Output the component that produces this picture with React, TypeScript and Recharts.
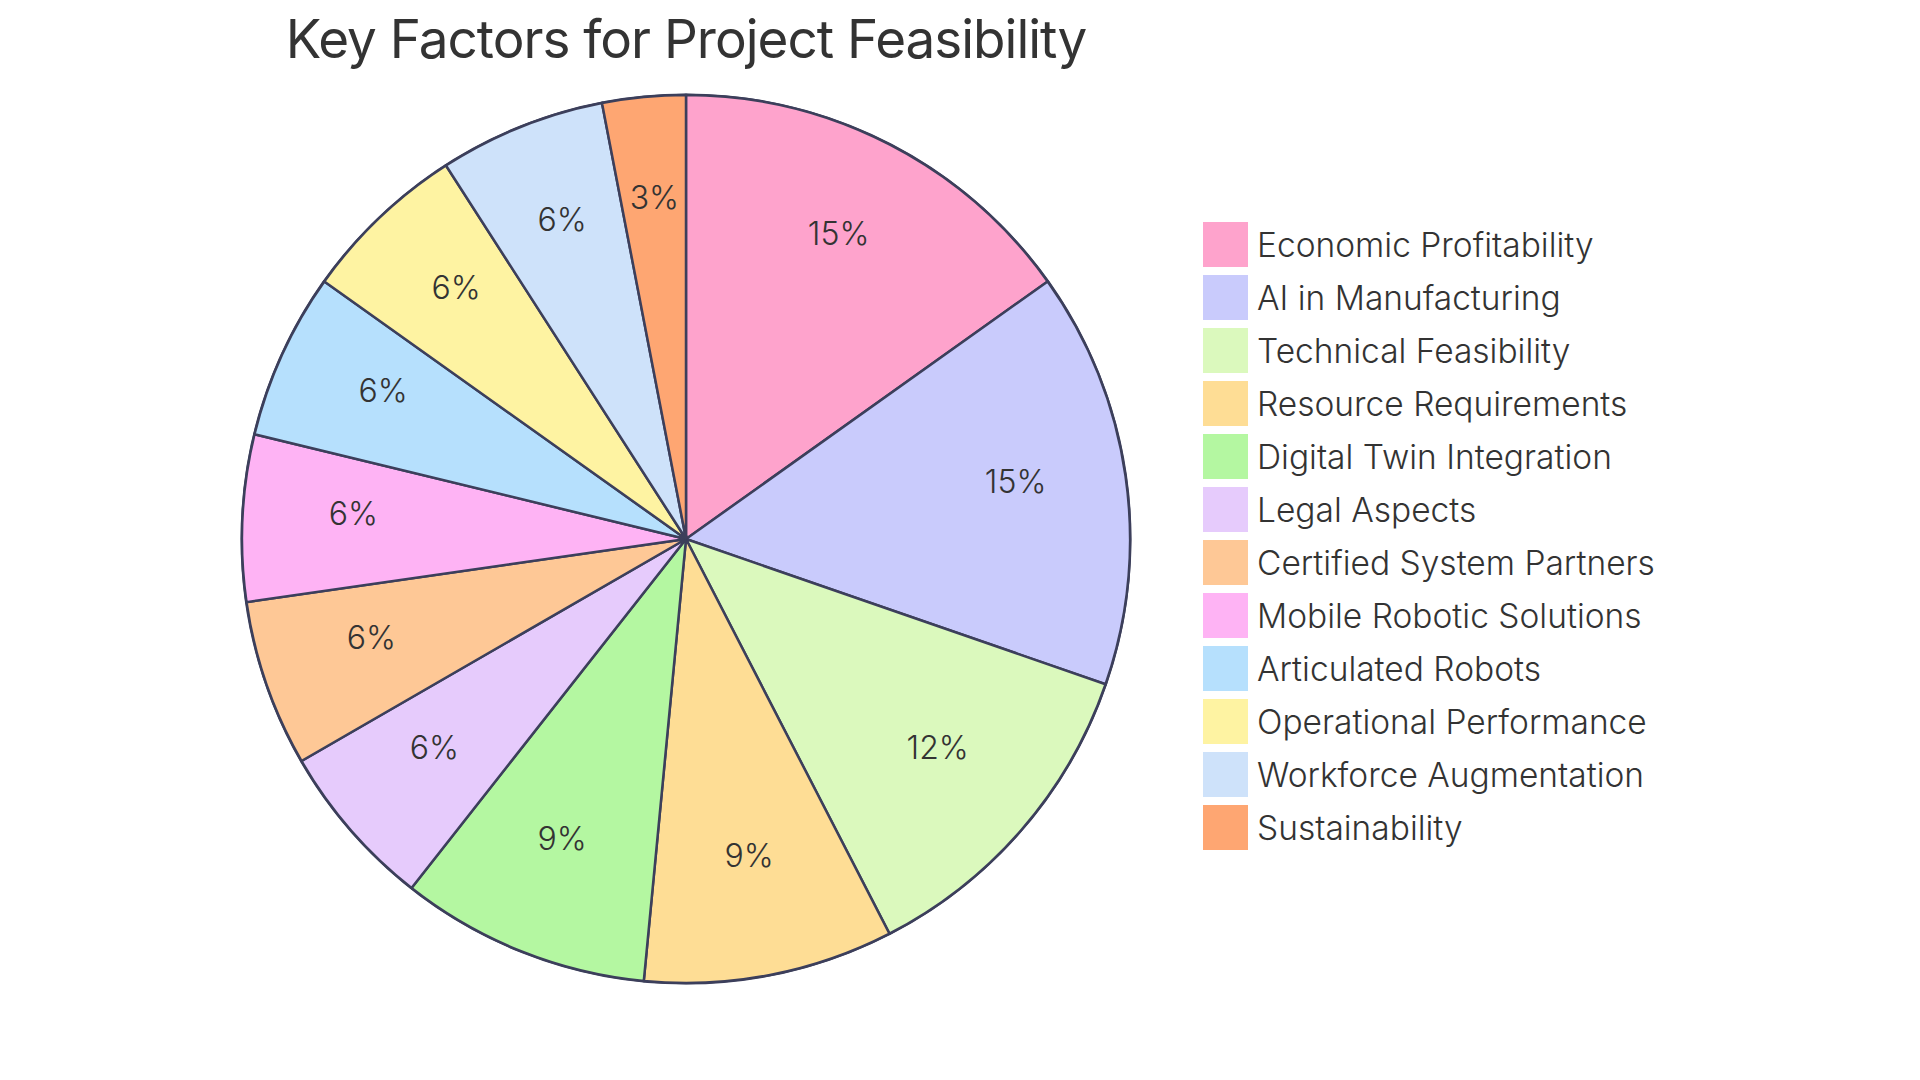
import React from "react";
import { PieChart, Pie, Cell } from "recharts";

const categories = [
  "Economic Profitability",
  "AI in Manufacturing",
  "Technical Feasibility",
  "Resource Requirements",
  "Digital Twin Integration",
  "Legal Aspects",
  "Certified System Partners",
  "Mobile Robotic Solutions",
  "Articulated Robots",
  "Operational Performance",
  "Workforce Augmentation",
  "Sustainability",
];
const values = [5, 5, 4, 3, 3, 2, 2, 2, 2, 2, 2, 1];
const colors = [
  "#FEA3CC",
  "#C9CBFC",
  "#DBF9BD",
  "#FEDD95",
  "#B4F7A1",
  "#E6CBFC",
  "#FEC896",
  "#FEB3F4",
  "#B6E0FD",
  "#FEF3A2",
  "#CEE2FA",
  "#FEA672",
];

const total = values.reduce((a, b) => a + b, 0);
const data = categories.map((name, i) => ({ name, value: values[i] }));

const RAD = Math.PI / 180;
const STROKE = "#3c3f5b";
const FONT = "Inter, sans-serif";
const CX = 686;
const CY = 539;
const R = 444;

const renderLabel = (props: any) => {
  const { cx, cy, midAngle, outerRadius, value } = props;
  const r = outerRadius * 0.75;
  const x = cx + r * Math.cos(-midAngle * RAD);
  const y = cy + r * Math.sin(-midAngle * RAD);
  return (
    <text
      x={x}
      y={y - 10}
      textAnchor="middle"
      dominantBaseline="central"
      fill="#333"
      fontSize={32}
      fontFamily={FONT}
      fontWeight={300}
    >
      {`${Math.round((value / total) * 100)}%`}
    </text>
  );
};

export default function App() {
  return (
    <div
      style={{
        position: "absolute",
        left: 0,
        top: 0,
        width: 1920,
        height: 1080,
        background: "#fff",
      }}
    >
      <div
        style={{
          position: "absolute",
          left: 0,
          width: 1372,
          top: 7,
          textAlign: "center",
          fontFamily: FONT,
          fontSize: 53,
          color: "#333",
          letterSpacing: -1,
        }}
      >
        Key Factors for Project Feasibility
      </div>
      <PieChart
        width={1920}
        height={1080}
        margin={{ top: 0, right: 0, bottom: 0, left: 0 }}
      >
        <Pie
          data={data}
          dataKey="value"
          nameKey="name"
          cx={CX}
          cy={CY}
          outerRadius={R}
          startAngle={90}
          endAngle={-270}
          stroke={STROKE}
          strokeWidth={2.5}
          label={renderLabel}
          labelLine={false}
          isAnimationActive={false}
        >
          {data.map((_, i) => (
            <Cell key={i} fill={colors[i]} />
          ))}
        </Pie>
        <circle
          cx={CX}
          cy={CY}
          r={R}
          fill="none"
          stroke={STROKE}
          strokeWidth={3}
        />
      </PieChart>
      <div style={{ position: "absolute", left: 1203, top: 218 }}>
        {categories.map((name, i) => (
          <div
            key={name}
            style={{ display: "flex", alignItems: "center", height: 53 }}
          >
            <div
              style={{
                width: 45,
                height: 45,
                background: colors[i],
                marginRight: 9,
              }}
            />
            <span
              style={{
                fontFamily: FONT,
                fontSize: 33.5,
                fontWeight: 300,
                color: "#333",
                whiteSpace: "nowrap",
              }}
            >
              {name}
            </span>
          </div>
        ))}
      </div>
    </div>
  );
}
